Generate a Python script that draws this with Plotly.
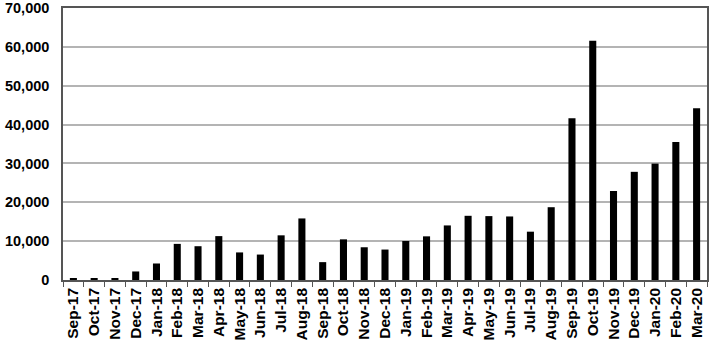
import plotly.graph_objects as go

months = ["Sep-17", "Oct-17", "Nov-17", "Dec-17", "Jan-18", "Feb-18", "Mar-18", "Apr-18",
          "May-18", "Jun-18", "Jul-18", "Aug-18", "Sep-18", "Oct-18", "Nov-18", "Dec-18",
          "Jan-19", "Feb-19", "Mar-19", "Apr-19", "May-19", "Jun-19", "Jul-19", "Aug-19",
          "Sep-19", "Oct-19", "Nov-19", "Dec-19", "Jan-20", "Feb-20", "Mar-20"]
values = [500, 300, 500, 2200, 4250, 9300, 8700, 11300,
          7100, 6550, 11500, 15850, 4600, 10470, 8430, 7840,
          10040, 11240, 14050, 16530, 16450, 16360, 12440, 18740,
          41640, 61570, 22910, 27850, 29970, 35510, 44200]
y_ticks = [0, 10000, 20000, 30000, 40000, 50000, 60000, 70000]
y_labels = ["0", "10,000", "20,000", "30,000", "40,000", "50,000", "60,000", "70,000"]

fig = go.Figure(go.Bar(x=months, y=values, marker=dict(color="black", line=dict(width=0))))

fig.update_layout(
    width=709, height=344,
    margin=dict(l=63, r=2, t=8, b=64, autoexpand=False),
    paper_bgcolor="white", plot_bgcolor="white",
    bargap=0.66, showlegend=False,
    font=dict(family="Liberation Sans", size=14, color="black"),
)
fig.update_xaxes(
    type="category", tickangle=-90, tickson="boundaries", ticks="outside", ticklen=5,
    tickcolor="#555555", showline=True, linecolor="#555555", linewidth=1.5, mirror=True,
    tickvals=months, ticktext=["<b>%s</b>" % m for m in months],
    tickfont=dict(family="Liberation Sans", size=15.5, color="black"),
    showgrid=False, automargin=False,
)
fig.update_yaxes(
    range=[0, 70030], tickvals=y_ticks, ticktext=["<b>%s</b>" % t for t in y_labels],
    showgrid=True, gridcolor="#b4b4b4", gridwidth=1.5,
    showline=True, linecolor="#555555", linewidth=1.5, mirror=True,
    ticks="", ticklabelstandoff=9, ticklabeloverflow="allow",
    tickfont=dict(family="Liberation Sans", size=14.5, color="black"),
    zeroline=False, automargin=False,
)
fig.write_html("out.html", config={"displayModeBar": False},
               post_script="document.body.style.margin='0';document.body.style.padding='0';")
